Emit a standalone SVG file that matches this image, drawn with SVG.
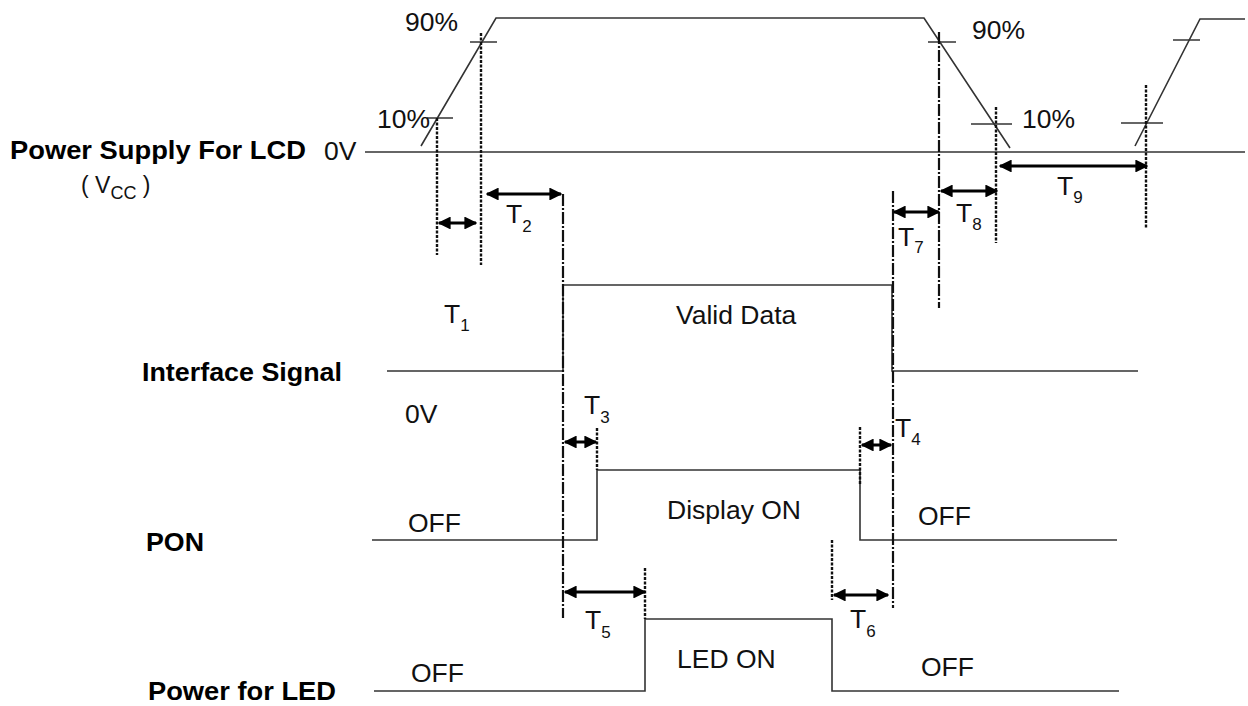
<svg xmlns="http://www.w3.org/2000/svg" width="1248" height="706" viewBox="0 0 1248 706">
<defs>
<marker id="ah" viewBox="0 0 10 10" refX="9" refY="5" markerWidth="4.3" markerHeight="4.3" orient="auto-start-reverse" markerUnits="strokeWidth">
<path d="M0,0 L10,5 L0,10 z" fill="#000"/>
</marker>
<style>
.sig{fill:none;stroke:#333;stroke-width:1.6}
.tick{fill:none;stroke:#333;stroke-width:1.5}
.dot{fill:none;stroke:#111;stroke-width:2.4;stroke-dasharray:3 1.5}
.dd{fill:none;stroke:#111;stroke-width:2.2;stroke-dasharray:12 2 2 2}
.arr{fill:none;stroke:#000;stroke-width:3;marker-start:url(#ah);marker-end:url(#ah)}
.lbl{font-family:"Liberation Sans",Arial,sans-serif;font-size:26.5px;fill:#111}
.bold{font-family:"Liberation Sans",Arial,sans-serif;font-size:26px;font-weight:bold;fill:#000}
.sub{font-size:17px}
</style>
</defs>
<rect width="1248" height="706" fill="#fff"/>

<g id="labels">
<text class="bold" x="10" y="159" textLength="296" lengthAdjust="spacingAndGlyphs">Power Supply For LCD</text>
<text class="lbl" x="81" y="193" style="font-size:23px">( V<tspan dy="6" style="font-size:18px">CC</tspan><tspan dy="-6"> )</tspan></text>
<text class="bold" x="142" y="381" textLength="200" lengthAdjust="spacingAndGlyphs">Interface Signal</text>
<text class="bold" x="146" y="551" textLength="58" lengthAdjust="spacingAndGlyphs">PON</text>
<text class="bold" x="148" y="700" textLength="188" lengthAdjust="spacingAndGlyphs">Power for LED</text>
</g>

<g id="vcc">
<polyline class="sig" points="365,152 1245,152"/>
<polyline class="sig" points="421,146 496,18 924,18 1010,148"/>
<polyline class="sig" points="1135,146 1200,19 1245,19"/>
<line class="tick" x1="470" y1="42" x2="497" y2="42"/>
<line class="tick" x1="427" y1="118" x2="453" y2="118"/>
<line class="tick" x1="928" y1="42" x2="956" y2="42"/>
<line class="tick" x1="971" y1="124" x2="1012" y2="124"/>
<line class="tick" x1="1173" y1="40" x2="1200" y2="40"/>
<line class="tick" x1="1121" y1="123" x2="1163" y2="123"/>
<text class="lbl" x="405" y="31">90%</text>
<text class="lbl" x="377" y="128">10%</text>
<text class="lbl" x="324" y="160">0V</text>
<text class="lbl" x="972" y="39">90%</text>
<text class="lbl" x="1022" y="128">10%</text>
</g>

<g id="interface">
<polyline class="sig" points="387,371 563,371 563,285 892,285 892,371 1138,371"/>
<text class="lbl" x="676" y="324">Valid Data</text>
<text class="lbl" x="405" y="423">0V</text>
</g>

<g id="pon">
<polyline class="sig" points="372,540 597,540 597,470 860,470 860,540 1117,540"/>
<text class="lbl" x="408" y="532">OFF</text>
<text class="lbl" x="667" y="519">Display ON</text>
<text class="lbl" x="918" y="525">OFF</text>
</g>

<g id="led">
<polyline class="sig" points="374,691 645,691 645,619 832,619 832,691 1119,691"/>
<text class="lbl" x="411" y="682">OFF</text>
<text class="lbl" x="677" y="668">LED ON</text>
<text class="lbl" x="921" y="676">OFF</text>
</g>

<g id="connectors">
<line class="dot" x1="437" y1="118" x2="437" y2="255"/>
<line class="dot" x1="481" y1="33" x2="481" y2="265"/>
<line class="dd" x1="563" y1="194" x2="563" y2="618"/>
<line class="dot" x1="597" y1="428" x2="597" y2="470"/>
<line class="dot" x1="645" y1="568" x2="645" y2="619"/>
<line class="dot" x1="832" y1="540" x2="832" y2="600"/>
<line class="dot" x1="860" y1="427" x2="860" y2="485"/>
<line class="dd" x1="893" y1="191" x2="893" y2="608"/>
<line class="dd" x1="939" y1="32" x2="939" y2="308"/>
<line class="dot" x1="996" y1="107" x2="996" y2="243"/>
<line class="dot" x1="1146" y1="85" x2="1146" y2="228"/>

<line class="arr" x1="439" y1="223" x2="476" y2="223"/>
<line class="arr" x1="487" y1="194" x2="561" y2="194"/>
<line class="arr" x1="565" y1="442" x2="596" y2="442"/>
<line class="arr" x1="862" y1="445" x2="891" y2="445"/>
<line class="arr" x1="565" y1="592" x2="645" y2="592"/>
<line class="arr" x1="834" y1="595" x2="888" y2="595"/>
<line class="arr" x1="894" y1="212" x2="939" y2="212"/>
<line class="arr" x1="941" y1="191" x2="997" y2="191"/>
<line class="arr" x1="1000" y1="166" x2="1147" y2="166"/>
</g>

<g id="timing-labels">
<text class="lbl" x="444" y="323">T<tspan class="sub" dy="8">1</tspan></text>
<text class="lbl" x="506" y="223">T<tspan class="sub" dy="9">2</tspan></text>
<text class="lbl" x="584" y="414">T<tspan class="sub" dy="9">3</tspan></text>
<text class="lbl" x="895" y="437">T<tspan class="sub" dy="8">4</tspan></text>
<text class="lbl" x="585" y="629">T<tspan class="sub" dy="9">5</tspan></text>
<text class="lbl" x="850" y="628">T<tspan class="sub" dy="9">6</tspan></text>
<text class="lbl" x="898" y="246">T<tspan class="sub" dy="7">7</tspan></text>
<text class="lbl" x="956" y="222">T<tspan class="sub" dy="8">8</tspan></text>
<text class="lbl" x="1057" y="195">T<tspan class="sub" dy="8">9</tspan></text>
</g>
</svg>
